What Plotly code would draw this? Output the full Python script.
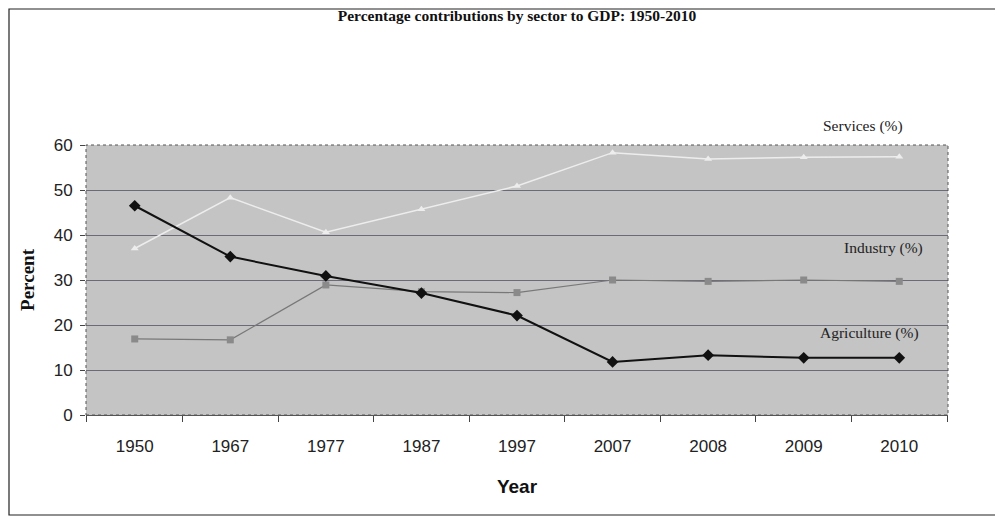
import plotly.graph_objects as go

years = ["1950", "1967", "1977", "1987", "1997", "2007", "2008", "2009", "2010"]
agriculture = [46.5, 35.2, 30.9, 27.1, 22.1, 11.8, 13.3, 12.7, 12.7]
industry = [16.9, 16.7, 28.9, 27.4, 27.2, 30.0, 29.7, 30.0, 29.7]
services = [37.0, 48.3, 40.6, 45.7, 50.9, 58.3, 56.9, 57.3, 57.4]
y_ticks = [0, 10, 20, 30, 40, 50, 60]

# page has an 8px body margin, so the figure is a little smaller and shifted
L, T, PW, PH = 78, 137, 862, 270
W, H = 995, 509

fig = go.Figure()
fig.add_trace(go.Scatter(x=years, y=services, mode="lines+markers", name="Services (%)",
                         line=dict(color="#ededed", width=1.5),
                         marker=dict(symbol="triangle-up", size=7, color="#ededed")))
fig.add_trace(go.Scatter(x=years, y=industry, mode="lines+markers", name="Industry (%)",
                         line=dict(color="#787878", width=1.2),
                         marker=dict(symbol="square", size=7, color="#8a8a8a")))
fig.add_trace(go.Scatter(x=years, y=agriculture, mode="lines+markers", name="Agriculture (%)",
                         line=dict(color="#111111", width=2),
                         marker=dict(symbol="diamond", size=9, color="#111111")))

ann_font = dict(family="Liberation Serif", size=15.5, color="#222222")
fig.add_annotation(x=1.0, xref="paper", xanchor="right", xshift=-43,
                   y=(415 - 126) / PH, yref="paper", yanchor="middle",
                   text="Services (%)", showarrow=False, font=ann_font)
fig.add_annotation(x=1.0, xref="paper", xanchor="right", xshift=-23, y=37.1,
                   yanchor="middle",
                   text="Industry (%)", showarrow=False, font=ann_font)
fig.add_annotation(x=1.0, xref="paper", xanchor="right", xshift=-27, y=18.2,
                   yanchor="middle",
                   text="Agriculture (%)", showarrow=False, font=ann_font)

# outer border
fig.add_shape(type="rect", xref="paper", yref="paper",
              x0=(1 - L) / PW, x1=(W - 5 - L) / PW,
              y0=(T + PH - (H - 2)) / PH, y1=(T + PH - 1) / PH,
              line=dict(color="#222222", width=1.2), layer="below")
# plot area dashed border
fig.add_shape(type="rect", xref="paper", yref="paper", x0=0, x1=1, y0=0, y1=1,
              line=dict(color="#555555", width=1, dash="dot"))

fig.update_layout(
    width=W, height=H,
    margin=dict(l=L, r=W - L - PW, t=T, b=H - T - PH),
    paper_bgcolor="#ffffff",
    plot_bgcolor="#c4c4c4",
    showlegend=False,
    title=dict(text="<b>Percentage contributions by sector to GDP: 1950-2010</b>",
               x=0.5, xref="paper", y=1 - 8 / H, yanchor="middle",
               font=dict(family="Liberation Serif", size=15.5, color="#111111")),
    xaxis=dict(type="category", tickson="boundaries", ticks="outside", ticklen=6,
               tickcolor="#444444", showgrid=False, showline=True, linecolor="#555555",
               ticklabelstandoff=16,
               tickfont=dict(family="Liberation Sans", size=17, color="#222222"),
               title=dict(text="<b>Year</b>", standoff=24,
                          font=dict(family="Liberation Sans", size=19, color="#111111"))),
    yaxis=dict(range=[0, 60], tickvals=y_ticks, ticks="outside", ticklen=5,
               tickcolor="#444444", showgrid=True, gridcolor="#6a6a78", gridwidth=1,
               zeroline=False, showline=False, ticklabelstandoff=4,
               tickfont=dict(family="Liberation Sans", size=17, color="#222222"),
               title=dict(text="<b>Percent</b>", standoff=14,
                          font=dict(family="Liberation Serif", size=19, color="#111111"))),
)

fig.write_html("out.html")
